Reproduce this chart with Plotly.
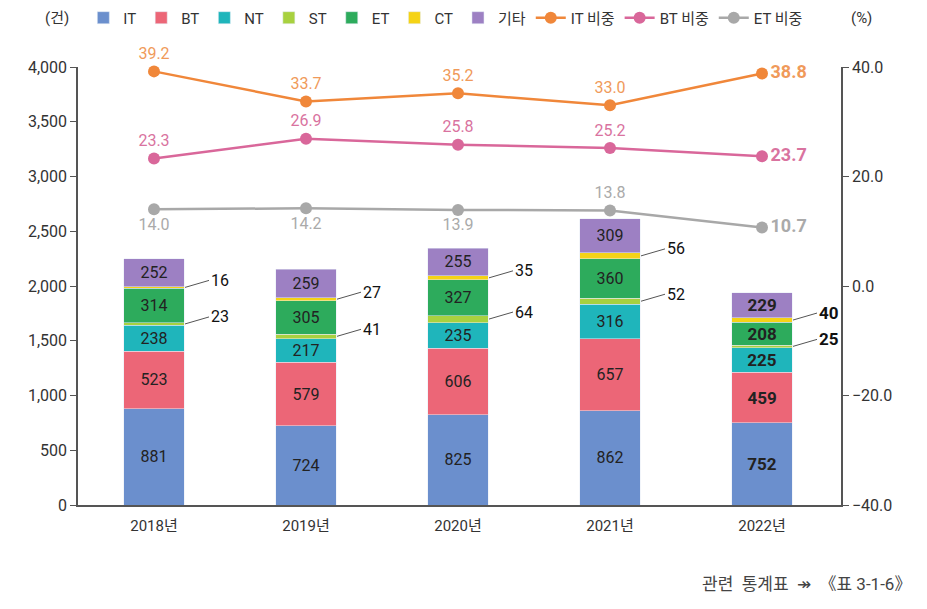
import plotly.graph_objects as go

years = ["2018년", "2019년", "2020년", "2021년", "2022년"]
series_names = ["IT", "BT", "NT", "ST", "ET", "CT", "기타"]
it_v = [881, 724, 825, 862, 752]
bt_v = [523, 579, 606, 657, 459]
nt_v = [238, 217, 235, 316, 225]
st_v = [23, 41, 64, 52, 25]
et_v = [314, 305, 327, 360, 208]
ct_v = [16, 27, 35, 56, 40]
etc_v = [252, 259, 255, 309, 229]
it_share = [39.2, 33.7, 35.2, 33.0, 38.8]
bt_share = [23.3, 26.9, 25.8, 25.2, 23.7]
et_share = [14.0, 14.2, 13.9, 13.8, 10.7]

bar_colors = ["#6b8fcd", "#ec6677", "#1fb5bb", "#a8d13f", "#2dab5c", "#f5d316", "#9d80c3"]
FONT = "Liberation Sans Narrow, Roboto, Noto Sans CJK KR, sans-serif"

fig = go.Figure()
bar_series = [it_v, bt_v, nt_v, st_v, et_v, ct_v, etc_v]
for name, vals, col in zip(series_names, bar_series, bar_colors):
    small = name in ("ST", "CT")
    if small:
        txt = [""] * len(vals)
    else:
        txt = [str(v) if i < 4 else "<b>%d</b>" % v for i, v in enumerate(vals)]
    fig.add_trace(go.Bar(
        x=years, y=vals, name=name, marker_color=col, width=0.4,
        text=txt, textposition="inside", insidetextanchor="middle",
        textangle=0, constraintext="none",
        textfont=dict(color="#222", size=[16, 16, 16, 16, 17], family=FONT),
        hoverinfo="skip",
    ))

line_specs = [
    ("IT 비중", it_share, "#f0873a", "#f09a5a", ["top center"] * 4 + ["middle right"]),
    ("BT 비중", bt_share, "#d9679a", "#d9739f", ["top center"] * 4 + ["middle right"]),
    ("ET 비중", et_share, "#a8a8a8", "#aaaaaa", ["bottom center", "bottom center", "bottom center", "top center", "middle right"]),
]
for name, vals, col, tcol, pos in line_specs:
    txt = ["%.1f" % v if i < 4 else "<b>%.1f</b>" % v for i, v in enumerate(vals)]
    fig.add_trace(go.Scatter(
        x=years, y=vals, name=name, yaxis="y2", mode="lines+markers+text",
        line=dict(color=col, width=2.5), marker=dict(size=12, color=col),
        text=txt, textposition=pos, cliponaxis=False,
        textfont=dict(color=tcol, size=[16, 16, 16, 16, 18], family=FONT),
        hoverinfo="skip",
    ))

# leader-line labels for ST and CT
ann = []
st_base = [a + b + c for a, b, c in zip(it_v, bt_v, nt_v)]
for i, y in enumerate(years):
    st_mid = st_base[i] + st_v[i] / 2
    ct_mid = st_base[i] + st_v[i] + et_v[i] + ct_v[i] / 2
    for mid, val in ((st_mid, st_v[i]), (ct_mid, ct_v[i])):
        t = str(val) if i < 4 else "<b>%d</b>" % val
        ann.append(dict(
            x=y, y=mid, xref="x", yref="y", xshift=31, text=t,
            showarrow=True, arrowhead=0, arrowwidth=1, arrowcolor="#555",
            ax=24, ay=-7, xanchor="left", standoff=0, startstandoff=0,
            font=dict(size=16 if i < 4 else 17, color="#111", family=FONT),
        ))

ann.append(dict(text="(건)", xref="paper", yref="paper", x=-0.028, y=1.112,
                xanchor="center", yanchor="middle",
                showarrow=False, font=dict(size=15, color="#333", family=FONT)))
ann.append(dict(text="(%)", xref="paper", yref="paper", x=1.0275, y=1.112,
                xanchor="center", yanchor="middle",
                showarrow=False, font=dict(size=15, color="#333", family=FONT)))
ann.append(dict(text="관련\u00a0\u00a0통계표\u00a0\u00a0↠\u00a0\u00a0《표 3-1-6》", xref="paper", yref="paper",
                x=1.095, y=-0.18, xanchor="right", yanchor="middle", showarrow=False,
                font=dict(size=17, color="#444", family=FONT)))

fig.update_layout(
    barmode="stack",
    width=927, height=609,
    margin=dict(l=70, r=94, t=59, b=112, autoexpand=False),
    paper_bgcolor="white", plot_bgcolor="white",
    font=dict(family=FONT, size=15, color="#333"),
    showlegend=True,
    legend=dict(orientation="h", x=0.007, xanchor="left", y=1.112, yanchor="middle",
                font=dict(size=15, family=FONT, color="#333"),
                itemwidth=30, tracegroupgap=0, traceorder="normal"),
    xaxis=dict(showline=True, linecolor="#555", linewidth=1.5, ticks="",
               ticklabelstandoff=6,
               tickfont=dict(size=15, color="#333"), showgrid=False, automargin=False),
    yaxis=dict(range=[0, 4000], dtick=500, tickformat=",", showline=True,
               linecolor="#555", linewidth=1.5, ticks="outside", ticklen=6,
               tickcolor="#555", showgrid=False, zeroline=False, automargin=False,
               tickfont=dict(size=16, color="#333")),
    yaxis2=dict(range=[-40, 40], dtick=20, tickformat=".1f", overlaying="y",
                side="right", showline=True, linecolor="#555", linewidth=1.5,
                ticks="outside", ticklen=6, tickcolor="#555", showgrid=False,
                zeroline=False, automargin=False, tickfont=dict(size=16, color="#333")),
    annotations=ann,
    uniformtext=dict(mode=False),
)

fig.write_html("out.html")
